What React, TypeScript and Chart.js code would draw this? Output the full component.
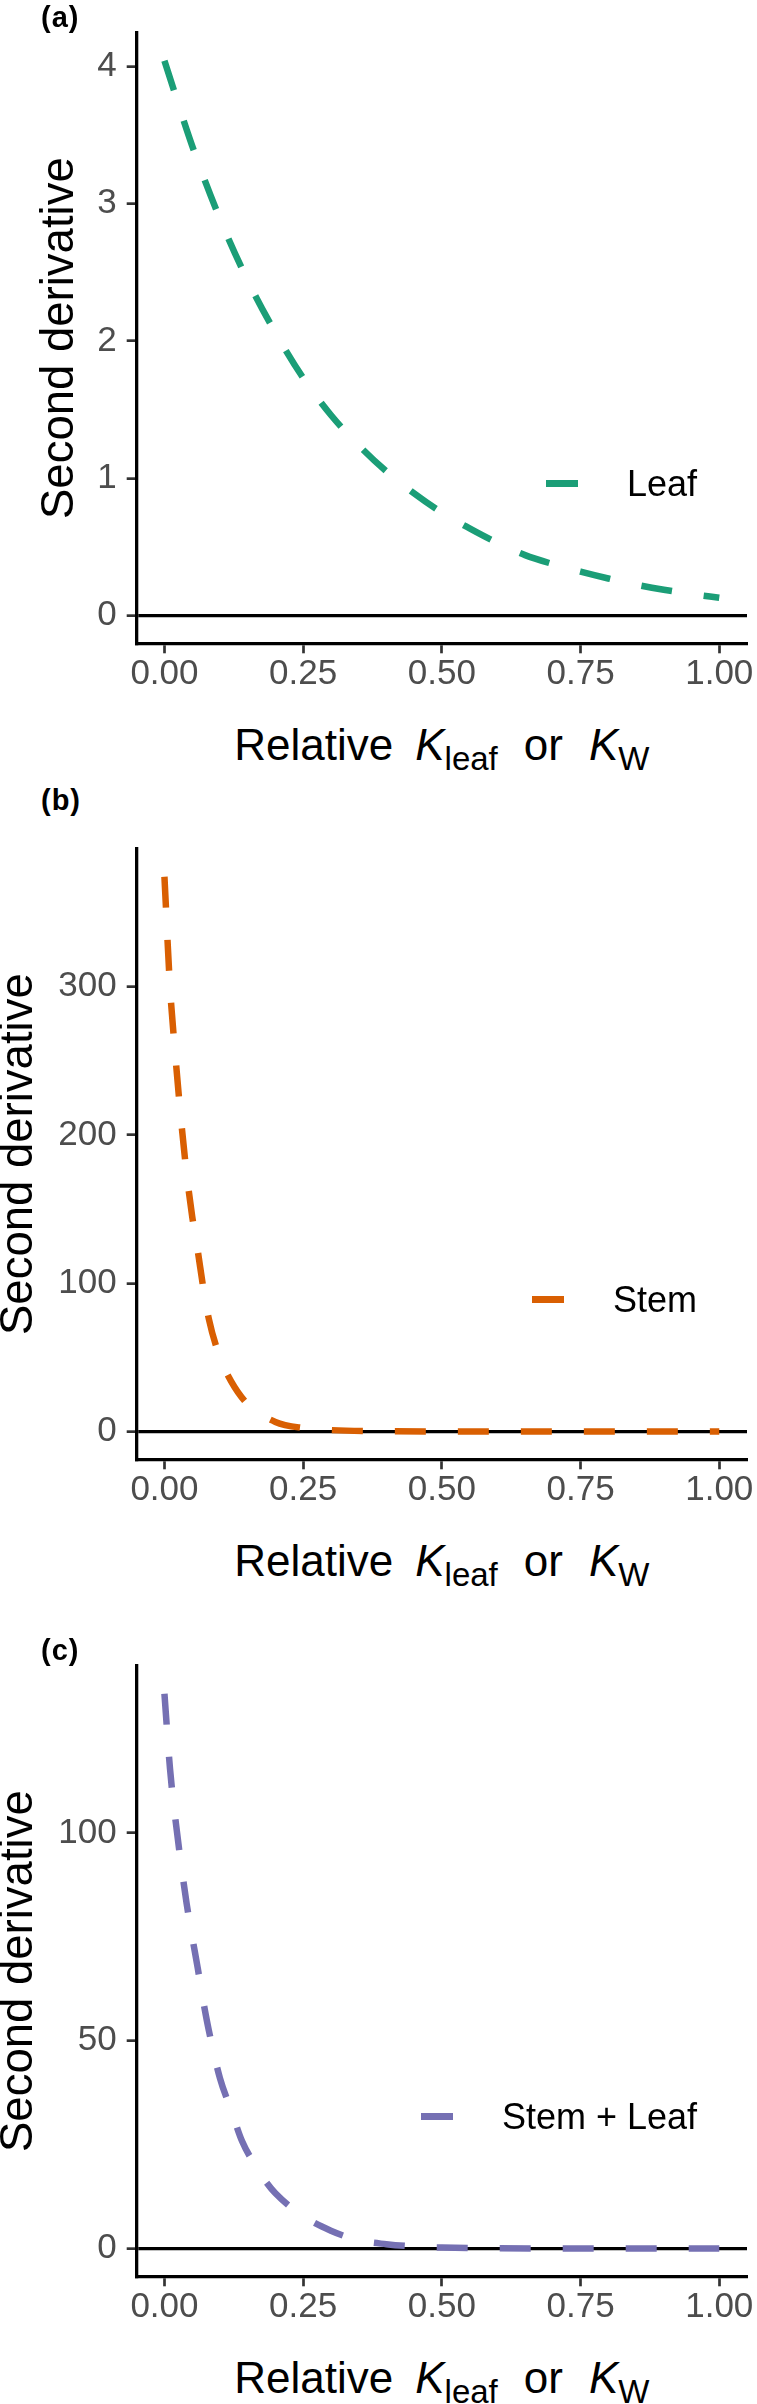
import React, { useEffect, useRef } from 'react';
import { Chart, registerables } from 'chart.js';

Chart.register(...registerables);

const FONT = "'Liberation Sans', Arial, Helvetica, sans-serif";

// Shared x axis: relative conductance
const xTickValues = [0, 0.25, 0.5, 0.75, 1];

// (a) Leaf
const leafX = [0, 0.05, 0.1, 0.15, 0.2, 0.25, 0.3, 0.35, 0.4, 0.45, 0.5, 0.55, 0.6, 0.65, 0.7, 0.75, 0.8, 0.85, 0.9, 0.95, 1.0];
const leafY = [4.04, 3.42, 2.89, 2.44, 2.06, 1.73, 1.46, 1.24, 1.05, 0.89, 0.75, 0.635, 0.53, 0.44, 0.375, 0.32, 0.27, 0.225, 0.188, 0.157, 0.13];
const leafTicks = [0, 1, 2, 3, 4];

// (b) Stem
const stemX = [0, 0.01, 0.02, 0.03, 0.04, 0.05, 0.06, 0.07, 0.08, 0.1, 0.12, 0.15, 0.2, 0.25, 0.3, 0.4, 0.5, 0.6, 0.7, 0.8, 0.9, 1.0];
const stemY = [374, 300, 252, 210, 174, 145, 122, 97, 76, 50, 34, 18.5, 6.5, 2.4, 1.0, 0.2, 0.05, 0.01, 0, 0, 0, 0];
const stemTicks = [0, 100, 200, 300];

// (c) Stem + Leaf
const bothX = [0, 0.01, 0.02, 0.03, 0.04, 0.05, 0.06, 0.07, 0.08, 0.1, 0.12, 0.14, 0.16, 0.18, 0.2, 0.25, 0.3, 0.35, 0.4, 0.45, 0.5, 0.6, 0.7, 0.8, 0.9, 1.0];
const bothY = [133.5, 115.5, 103, 92.5, 83, 75, 67.5, 59.5, 52.5, 41, 33.4, 25.8, 20.8, 16.6, 13.3, 7.8, 4.3, 2.0, 1.05, 0.5, 0.25, 0.08, 0.03, 0.01, 0, 0];
const bothTicks = [0, 50, 100];

type PanelSpec = {
  tag: string;
  name: string;
  color: string;
  xs: number[];
  ys: number[];
  yTicks: number[];
  areaTop: number;
  tagCenter: number;
  titleCenter: number;
};

const panels: PanelSpec[] = [
  { tag: '(a)', name: 'Leaf', color: '#1B9E77', xs: leafX, ys: leafY, yTicks: leafTicks, areaTop: 33, tagCenter: 20.3, titleCenter: 60 },
  { tag: '(b)', name: 'Stem', color: '#D95F02', xs: stemX, ys: stemY, yTicks: stemTicks, areaTop: 849, tagCenter: 802.8, titleCenter: 19.5 },
  { tag: '(c)', name: 'Stem + Leaf', color: '#7570B3', xs: bothX, ys: bothY, yTicks: bothTicks, areaTop: 1666, tagCenter: 1653, titleCenter: 19.5 },
];

const PAGE_W = 757;
const PAGE_H = 2404;
const PAD_TOP = 33;
const AREA_LEFT = 136.7;
const AREA_RIGHT = 747;
const AREA_H = 610.3;
const CANVAS_H = 713;
const TITLE_SIZE = 45.5;
const TITLE_LH = 0.5;

function Panel({ spec }: { spec: PanelSpec }) {
  const ref = useRef<HTMLCanvasElement | null>(null);

  useEffect(() => {
    const canvas = ref.current;
    if (!canvas) return;
    const yMax = Math.max(...spec.ys);
    const yMin = Math.min(0, ...spec.ys);
    const pad = (yMax - yMin) * 0.05;

    const chart = new Chart(canvas, {
      type: 'line',
      data: {
        datasets: [
          {
            label: spec.name,
            data: spec.xs.map((x, i) => ({ x, y: spec.ys[i] })),
            borderColor: spec.color,
            backgroundColor: spec.color,
            borderWidth: 6.5,
            borderDash: [31, 32],
            borderCapStyle: 'butt',
            pointRadius: 0,
            cubicInterpolationMode: 'monotone',
            fill: false,
          },
        ],
      },
      options: {
        responsive: false,
        maintainAspectRatio: false,
        animation: false,
        events: [],
        layout: { padding: { top: PAD_TOP, right: PAGE_W - AREA_RIGHT, left: 0, bottom: 0 } },
        plugins: { legend: { display: false }, tooltip: { enabled: false }, title: { display: false } },
        scales: {
          x: {
            type: 'linear',
            min: -0.05,
            max: 1.05,
            afterBuildTicks: (s: any) => {
              s.ticks = xTickValues.map((v) => ({ value: v }));
            },
            afterFit: (s: any) => {
              s.height = CANVAS_H - PAD_TOP - AREA_H;
            },
            ticks: {
              autoSkip: false,
              maxRotation: 0,
              padding: 0,
              color: '#4D4D4D',
              font: { family: FONT, size: 35 },
              callback: (v: any) => Number(v).toFixed(2),
            },
            grid: {
              display: true,
              drawOnChartArea: false,
              drawTicks: true,
              tickLength: 10,
              tickColor: '#333333',
              tickWidth: 2.7,
            },
            border: { display: true, color: '#000000', width: 3.3 },
          },
          y: {
            type: 'linear',
            min: yMin - pad,
            max: yMax + pad,
            z: 1,
            afterBuildTicks: (s: any) => {
              s.ticks = spec.yTicks.map((v) => ({ value: v }));
            },
            afterFit: (s: any) => {
              s.width = AREA_LEFT;
            },
            ticks: {
              autoSkip: false,
              padding: 10,
              color: '#4D4D4D',
              font: { family: FONT, size: 35 },
              callback: (v: any) => String(v),
            },
            grid: {
              display: true,
              drawOnChartArea: true,
              drawTicks: true,
              tickLength: 10,
              tickColor: '#333333',
              tickWidth: 2.7,
              color: (ctx: any) => (ctx.tick && ctx.tick.value === 0 ? '#000000' : 'rgba(0,0,0,0)'),
              lineWidth: 3.3,
            },
            border: { display: true, color: '#000000', width: 3.3 },
            title: {
              display: true,
              text: 'Second derivative',
              color: '#000000',
              font: { family: FONT, size: TITLE_SIZE, lineHeight: TITLE_LH },
              padding: { top: spec.titleCenter - (TITLE_SIZE * TITLE_LH) / 2, bottom: 0 },
            },
          },
        },
      },
    } as any);

    return () => chart.destroy();
  }, [spec]);

  const t = spec.areaTop;
  return (
    <>
      <canvas
        ref={ref}
        width={PAGE_W}
        height={CANVAS_H}
        style={{ position: 'absolute', left: 0, top: t - PAD_TOP, width: PAGE_W, height: CANVAS_H }}
      />
      <div
        style={{
          position: 'absolute',
          left: 41,
          top: spec.tagCenter - 17,
          fontFamily: FONT,
          fontWeight: 'bold',
          fontSize: 29,
          lineHeight: '29px',
          letterSpacing: 1,
          color: '#000',
        }}
      >
        {spec.tag}
      </div>
      <div
        style={{
          position: 'absolute',
          right: PAGE_W - 697,
          top: t + 450.5 - 18,
          height: 36,
          display: 'flex',
          alignItems: 'center',
          fontFamily: FONT,
          fontSize: 36,
          lineHeight: '36px',
          color: '#000',
          whiteSpace: 'nowrap',
        }}
      >
        <span style={{ display: 'inline-block', width: 32, height: 6.5, background: spec.color, marginRight: 49 }} />
        <span>{spec.name}</span>
      </div>
      <div
        style={{
          position: 'absolute',
          left: AREA_LEFT,
          width: AREA_RIGHT - AREA_LEFT,
          top: t + AREA_H + 117.3 - 37.25,
          textAlign: 'center',
          fontFamily: FONT,
          fontSize: 44,
          lineHeight: '44px',
          color: '#000',
          whiteSpace: 'nowrap',
        }}
      >
        Relative
        <i style={{ marginLeft: 22 }}>K</i>
        <span style={{ fontSize: 33, position: 'relative', top: 10 }}>leaf</span>
        <span style={{ marginLeft: 26 }}>or</span>
        <i style={{ marginLeft: 26 }}>K</i>
        <span style={{ fontSize: 33, position: 'relative', top: 10 }}>W</span>
      </div>
    </>
  );
}

export default function App() {
  return (
    <div
      style={{
        position: 'absolute',
        left: 0,
        top: 0,
        width: PAGE_W,
        height: PAGE_H,
        background: '#ffffff',
        overflow: 'hidden',
      }}
    >
      {panels.map((p) => (
        <Panel key={p.tag} spec={p} />
      ))}
    </div>
  );
}
